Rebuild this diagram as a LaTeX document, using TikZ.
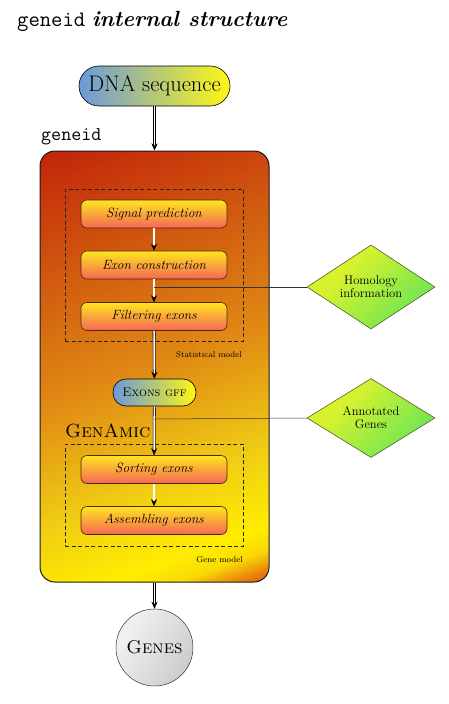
\documentclass[tikz,border=0pt]{standalone}
\usepackage{fontspec}
\usetikzlibrary{shapes.geometric,arrows.meta}
\definecolor{boxtop}{rgb}{1,0.9,0.12}
\definecolor{boxbot}{rgb}{0.96,0.4,0.34}
\definecolor{boxedge}{rgb}{0.3,0.15,0.05}
\definecolor{pillblue}{rgb}{0.42,0.6,0.86}
\definecolor{pillyellow}{rgb}{1,0.97,0.08}
\definecolor{dmedge}{rgb}{0.25,0.3,0.1}
\pgfdeclarehorizontalshading{bigshade}{100bp}{rgb(0bp)=(0.76,0.12,0.04); rgb(18bp)=(0.76,0.14,0.04); rgb(35bp)=(0.82,0.36,0.06); rgb(50bp)=(0.88,0.54,0.08); rgb(65bp)=(0.94,0.8,0.08); rgb(75bp)=(1,0.93,0); rgb(78bp)=(0.98,0.85,0.02); rgb(81bp)=(0.9,0.45,0.06); rgb(83bp)=(0.78,0.25,0.04); rgb(100bp)=(0.78,0.25,0.04)}
\pgfdeclarehorizontalshading{dmshade}{100bp}{rgb(0bp)=(0.88,0.95,0.15); rgb(35bp)=(0.85,0.95,0.18); rgb(72bp)=(0.45,0.9,0.32); rgb(100bp)=(0.45,0.9,0.32)}
\pgfdeclarehorizontalshading{genshade}{100bp}{rgb(0bp)=(0.97,0.97,0.97); rgb(30bp)=(0.94,0.94,0.94); rgb(75bp)=(0.8,0.8,0.8); rgb(100bp)=(0.8,0.8,0.8)}
\begin{document}
\begin{tikzpicture}[x=1pt,y=-1pt,
  every node/.style={inner sep=0pt},
  bigbox/.style={draw=black!90, line width=1pt, rounded corners=15pt, minimum width=229pt, minimum height=431pt, shade, shading=bigshade, shading angle=-70},
  stepbox/.style={draw=boxedge, line width=0.6pt, rounded corners=6pt, minimum width=146pt, minimum height=28pt, top color=boxtop, bottom color=boxbot, font=\fontsize{13.4}{15}\selectfont\itshape},
  pill/.style={draw=black, line width=0.6pt, left color=pillblue, right color=pillyellow},
  dm/.style={diamond, draw=dmedge, line width=0.5pt, shade, shading=dmshade, shading angle=-45, minimum width=128pt, minimum height=72pt, align=center, font=\fontsize{12.5}{13}\selectfont},
  dashbox/.style={draw=black!85, dashed, dash pattern=on 4pt off 2.5pt, line width=0.7pt, minimum width=178pt},
  arr/.style={double, double distance=1.7pt, line width=0.55pt, -{Stealth[length=7pt,width=6pt]}},
  link/.style={draw=black!80, line width=0.5pt},
  smalllabel/.style={anchor=base east, font=\fontsize{8.4}{10}\selectfont}
]
\useasboundingbox (0,0) rectangle (448,704);
\node[anchor=base west, font=\fontsize{22}{27}\selectfont] (title) at (17,27) {\texttt{geneid} \textbf{\textit{internal structure}}};
\node[pill, minimum width=151pt, minimum height=40pt, rounded corners=20pt, font=\fontsize{22.5}{26}\selectfont] (dna) at (154.5,86) {DNA sequence};
\node[anchor=base west, font=\fontsize{19.5}{22}\selectfont\ttfamily] (glabel) at (41,140) {geneid};
\node[bigbox] (geneid) at (154.5,366.5) {};
\node[dashbox, minimum height=152pt] (stat) at (154,265) {};
\node[smalllabel] (statlabel) at (242,357) {Statistical model};
\node[stepbox] (sp) at (154,214) {Signal prediction};
\node[stepbox] (ec) at (154,265) {Exon construction};
\node[stepbox] (fe) at (154,316.5) {Filtering exons};
\node[pill, minimum width=83pt, minimum height=27pt, rounded corners=13pt, font=\fontsize{12.5}{14}\selectfont] (gff) at (154.5,392.5) {\textsc{Exons gff}};
\node[anchor=base west, font=\fontsize{19}{22}\selectfont] (genamic) at (65,437) {\textsc{GenAmic}};
\node[dashbox, minimum height=102pt] (genebox) at (154,495) {};
\node[smalllabel] (genelabel) at (243,562) {Gene model};
\node[stepbox] (se) at (154,469.5) {Sorting exons};
\node[stepbox] (ae) at (154,520.5) {Assembling exons};
\node[dm] (homol) at (371,287) {Homology\\information};
\node[dm] (annot) at (371,418) {Annotated\\Genes};
\node[circle, draw=black!80, line width=0.5pt, minimum size=77pt, shade, shading=genshade, shading angle=-30, font=\fontsize{18.5}{22}\selectfont] (genes) at (154.5,647.5) {\textsc{Genes}};
\coordinate (h1) at (154,287);
\coordinate (h2) at (154,419);
\draw[arr] (dna.south) -- (geneid.north);
\draw[arr] (sp) -- (ec);
\draw[arr] (ec) -- (fe);
\draw[arr] (fe) -- (gff);
\draw[arr] (gff) -- (se);
\draw[arr] (se) -- (ae);
\draw[arr] (geneid.south) -- (genes.north);
\draw[link] (homol.west) -- (h1);
\draw[link] (annot.west) -- (h2);
\end{tikzpicture}
\end{document}
